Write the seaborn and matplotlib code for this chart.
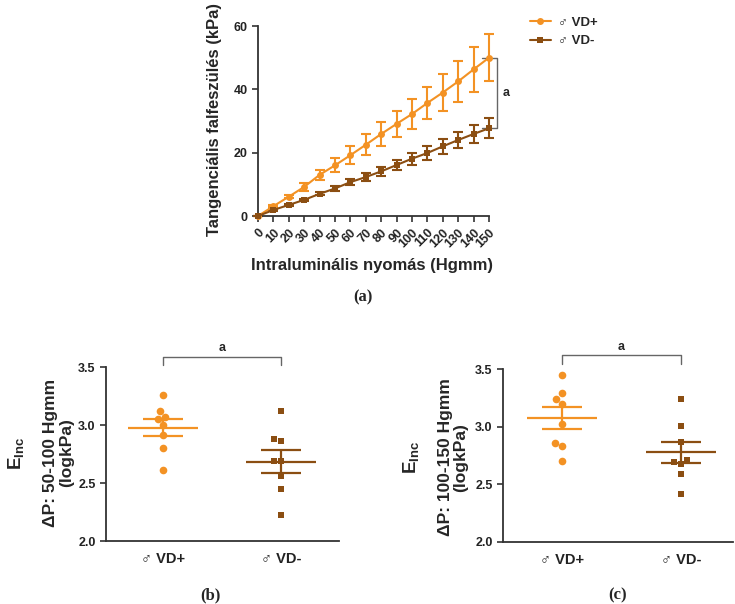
import numpy as np
import pandas as pd
import matplotlib
matplotlib.use("Agg")
import matplotlib.pyplot as plt
import seaborn as sns

sns.set_style("ticks")
plt.rcParams['font.family'] = ['Liberation Sans', 'DejaVu Sans']
plt.rcParams['font.weight'] = 'bold'
plt.rcParams['axes.labelweight'] = 'bold'
plt.rcParams['mathtext.fontset'] = 'custom'
plt.rcParams['mathtext.bf'] = 'Liberation Sans:bold'
plt.rcParams['mathtext.rm'] = 'Liberation Sans:bold'

ORANGE = '#F39224'
BROWN = '#8B4E12'
SPINE = '#333333'
BRACKET = '#666666'

# ---------------- data ----------------
pressure = [0, 10, 20, 30, 40, 50, 60, 70, 80, 90, 100, 110, 120, 130, 140, 150]
vdp_mean = [0, 3.1, 6.1, 9.2, 13.0, 16.0, 19.2, 22.5, 25.9, 29.1, 32.2, 35.7, 39.0, 42.5, 46.3, 50.0]
vdp_sem = [0, 0.4, 0.5, 1.3, 1.6, 2.2, 2.8, 3.3, 3.8, 4.1, 4.7, 5.0, 5.7, 6.4, 7.0, 7.5]
vdm_mean = [0, 1.9, 3.5, 5.1, 7.0, 8.7, 10.7, 12.3, 14.1, 16.1, 18.1, 19.9, 22.0, 24.0, 25.9, 27.7]
vdm_sem = [0, 0.3, 0.3, 0.4, 0.5, 0.8, 1.0, 1.2, 1.5, 1.7, 1.9, 2.1, 2.3, 2.6, 2.9, 3.2]

groups = ['♂ VD+', '♂ VD-']
b_vdp = [3.26, 3.12, 3.05, 3.07, 3.00, 2.91, 2.80, 2.61]
b_vdm = [3.12, 2.86, 2.88, 2.69, 2.69, 2.56, 2.45, 2.22]
c_vdp = [3.45, 3.29, 3.24, 3.20, 3.02, 2.86, 2.83, 2.70]
c_vdm = [3.24, 3.01, 2.87, 2.71, 2.68, 2.69, 2.59, 2.42]

y_ticks_a = [0, 20, 40, 60]
y_ticks_bc = [2.0, 2.5, 3.0, 3.5]

W, H = 735, 604
fig = plt.figure(figsize=(W / 100, H / 100), dpi=100)


def px_axes(left, top, right, bottom):
    return fig.add_axes([left / W, 1 - bottom / H, (right - left) / W, (bottom - top) / H])


def style_axes(ax, labelsize=9):
    sns.despine(ax=ax)
    for s in ['left', 'bottom']:
        ax.spines[s].set_color(SPINE)
        ax.spines[s].set_linewidth(1.3)
    ax.tick_params(axis='both', direction='out', length=4, width=1.2, color=SPINE,
                   labelsize=labelsize, labelcolor='#222222')


# ---------------- panel (a) ----------------
ax = px_axes(258, 26, 489, 216)
df_a = pd.DataFrame({
    'p': pressure * 2,
    'v': vdp_mean + vdm_mean,
    'g': [groups[0]] * len(pressure) + [groups[1]] * len(pressure),
})
sns.lineplot(data=df_a, x='p', y='v', hue='g', style='g', markers=['o', 's'], dashes=False,
             palette=[ORANGE, BROWN], markersize=5, markeredgewidth=0, linewidth=1.5,
             ax=ax, clip_on=False, zorder=3)
ax.errorbar(pressure, vdp_mean, yerr=vdp_sem, fmt='none', ecolor=ORANGE, elinewidth=1.5,
            capsize=3.5, capthick=1.5, clip_on=False, zorder=2)
ax.errorbar(pressure, vdm_mean, yerr=vdm_sem, fmt='none', ecolor=BROWN, elinewidth=1.5,
            capsize=3.5, capthick=1.5, clip_on=False, zorder=2)
ax.set_xlim(0, 150)
ax.set_ylim(0, 60)
ax.set_xticks(pressure)
ax.set_yticks(y_ticks_a)
style_axes(ax, 9)
for lab in ax.get_xticklabels():
    lab.set_rotation(45)
    lab.set_ha('right')
    lab.set_rotation_mode('anchor')
ax.set_xlabel('')
ax.set_ylabel('')
fig.text(372 / W, 1 - 266 / H, 'Intraluminális nyomás (Hgmm)', fontsize=12, fontweight='bold',
         ha='center', va='center')
fig.text(215 / W, 1 - 120 / H, 'Tangenciális falfeszülés (kPa)', fontsize=12, fontweight='bold',
         ha='center', va='center', rotation=90)
leg = ax.legend(loc='center left', bbox_to_anchor=(518 / W, 1 - 32 / H), bbox_transform=fig.transFigure,
                frameon=False, fontsize=9.5, handlelength=1.6, handletextpad=0.5, labelspacing=0.45)
for t in leg.get_texts():
    t.set_fontweight('bold')
# bracket
ax.plot([145.5, 155, 155, 145.5], [50, 50, 27.7, 27.7], color=BRACKET, lw=1, clip_on=False,
        transform=ax.transData)
ax.text(161, 38.8, 'a', fontsize=9, fontweight='bold', ha='center', va='center')
fig.text(363 / W, 1 - 297 / H, '(a)', family='Liberation Serif', fontweight='bold', fontsize=12,
         ha='center', va='center')


# ---------------- panels (b), (c) ----------------
def scatter_panel(box, vdp, vdm, xlim, ylabel_mid, label_x, ylab_y, bracket_y, letter, letter_x):
    ax = px_axes(*box)
    df = pd.DataFrame({'g': [groups[0]] * len(vdp) + [groups[1]] * len(vdm), 'v': vdp + vdm})
    sns.swarmplot(data=df[df.g == groups[0]], x='g', y='v', order=groups, color=ORANGE,
                  marker='o', size=5.5, ax=ax, zorder=3)
    sns.swarmplot(data=df[df.g == groups[1]], x='g', y='v', order=groups, color=BROWN,
                  marker='s', size=5, ax=ax, zorder=3)
    for i, (vals, col) in enumerate([(vdp, ORANGE), (vdm, BROWN)]):
        m = np.mean(vals)
        se = np.std(vals, ddof=1) / np.sqrt(len(vals))
        ax.hlines(m, i - 0.295, i + 0.295, color=col, lw=1.6, zorder=4)
        ax.hlines([m - se, m + se], i - 0.17, i + 0.17, color=col, lw=1.6, zorder=4)
        ax.vlines(i, m - se, m + se, color=col, lw=1.6, zorder=4)
    ax.set_xlim(*xlim)
    ax.set_ylim(2.0, 3.5)
    ax.set_yticks(y_ticks_bc)
    ax.set_yticklabels([f'{v:.1f}' for v in y_ticks_bc])
    style_axes(ax, 9)
    ax.tick_params(axis='x', length=0, labelsize=10.5, pad=8)
    ax.set_xlabel('')
    ax.set_ylabel('')
    x1, x2, x3 = label_x
    ax.text(x1, ylab_y, r'$\mathbf{E}_{\mathbf{Inc}}$', transform=ax.transAxes, rotation=90,
            ha='center', va='center', fontsize=13.5)
    ax.text(x2, ylab_y, ylabel_mid, transform=ax.transAxes, rotation=90,
            ha='center', va='center', fontsize=12.5, fontweight='bold')
    ax.text(x3, ylab_y, '(logkPa)', transform=ax.transAxes, rotation=90,
            ha='center', va='center', fontsize=12.5, fontweight='bold')
    # bracket
    top, low = bracket_y
    ax.plot([0, 0, 1, 1], [low, top, top, low], color=BRACKET, lw=1, clip_on=False)
    ax.text(0.5, top + 0.075, 'a', fontsize=9, fontweight='bold', ha='center', va='center')
    fig.text(letter_x / W, 1 - 595 / H, letter, family='Liberation Serif', fontweight='bold',
             fontsize=12, ha='center', va='center')
    return ax


scatter_panel((106, 367, 339, 541), b_vdp, b_vdm, (-0.483, 1.49), 'ΔP: 50-100 Hgmm',
              (-0.382, -0.240, -0.167), 0.506, (3.587, 3.52), '(b)', 210)
scatter_panel((503, 369, 733, 542), c_vdp, c_vdm, (-0.496, 1.437), 'ΔP: 100-150 Hgmm',
              (-0.396, -0.252, -0.183), 0.49, (3.62, 3.54), '(c)', 618)

fig.savefig('out.png', dpi=100)
